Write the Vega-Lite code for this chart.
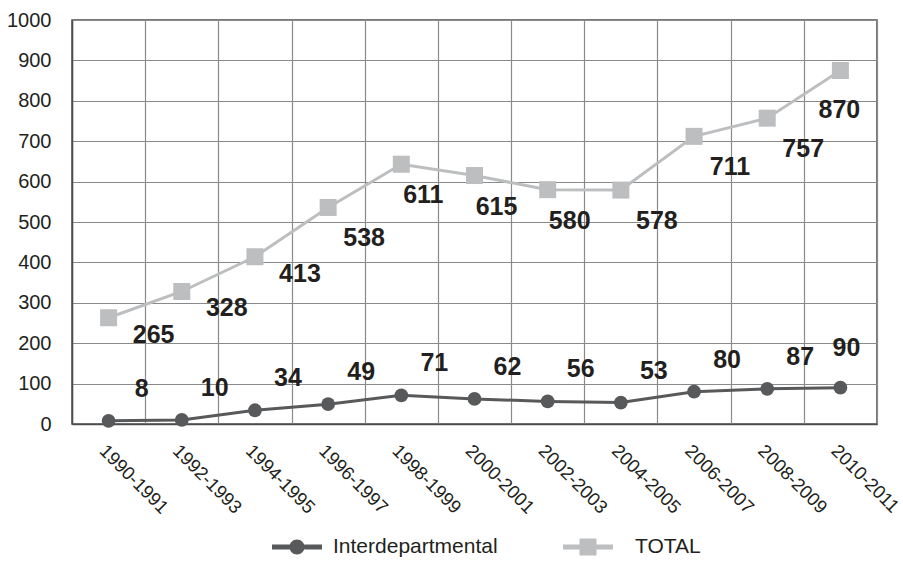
{
  "$schema": "https://vega.github.io/schema/vega-lite/v6.json",
  "autosize": {"type": "none"},
  "padding": {"left": 72, "top": 20, "right": 26, "bottom": 144},
  "width": 805,
  "height": 404,
  "background": "white",
  "config": {
    "font": "Liberation Sans",
    "view": {"stroke": "#4d4d4d", "strokeWidth": 1.5},
    "axis": {
      "labelFont": "Liberation Sans",
      "labelFontSize": 20,
      "labelColor": "#231f20",
      "gridColor": "#8a8a8a",
      "gridWidth": 1.2,
      "gridOpacity": 1,
      "domainColor": "#4d4d4d",
      "domainWidth": 1.5,
      "ticks": false,
      "title": null
    }
  },
  "data": {
    "values": [
      {"period": "1990-1991", "series": "Interdepartmental", "value": 8, "label": "8"},
      {"period": "1992-1993", "series": "Interdepartmental", "value": 10, "label": "10"},
      {"period": "1994-1995", "series": "Interdepartmental", "value": 34, "label": "34"},
      {"period": "1996-1997", "series": "Interdepartmental", "value": 49, "label": "49"},
      {"period": "1998-1999", "series": "Interdepartmental", "value": 71, "label": "71"},
      {"period": "2000-2001", "series": "Interdepartmental", "value": 62, "label": "62"},
      {"period": "2002-2003", "series": "Interdepartmental", "value": 56, "label": "56"},
      {"period": "2004-2005", "series": "Interdepartmental", "value": 53, "label": "53"},
      {"period": "2006-2007", "series": "Interdepartmental", "value": 80, "label": "80"},
      {"period": "2008-2009", "series": "Interdepartmental", "value": 87, "label": "87"},
      {"period": "2010-2011", "series": "Interdepartmental", "value": 90, "label": "90"},
      {"period": "1990-1991", "series": "TOTAL", "value": 263, "label": "265"},
      {"period": "1992-1993", "series": "TOTAL", "value": 328, "label": "328"},
      {"period": "1994-1995", "series": "TOTAL", "value": 414, "label": "413"},
      {"period": "1996-1997", "series": "TOTAL", "value": 536, "label": "538"},
      {"period": "1998-1999", "series": "TOTAL", "value": 643, "label": "611"},
      {"period": "2000-2001", "series": "TOTAL", "value": 615, "label": "615"},
      {"period": "2002-2003", "series": "TOTAL", "value": 580, "label": "580"},
      {"period": "2004-2005", "series": "TOTAL", "value": 579, "label": "578"},
      {"period": "2006-2007", "series": "TOTAL", "value": 712, "label": "711"},
      {"period": "2008-2009", "series": "TOTAL", "value": 757, "label": "757"},
      {"period": "2010-2011", "series": "TOTAL", "value": 875, "label": "870"}
    ]
  },
  "encoding": {
    "x": {
      "field": "period",
      "type": "nominal",
      "sort": null,
      "scale": {"type": "band", "paddingInner": 0, "paddingOuter": 0},
      "axis": {
        "labelAngle": 45,
        "labelAlign": "left",
        "labelBaseline": "top",
        "labelPadding": 17,
        "labelFontSize": 18.5,
        "tickBand": "extent",
        "grid": true,
        "domain": true
      }
    },
    "y": {
      "field": "value",
      "type": "quantitative",
      "scale": {"domain": [0, 1000], "nice": false},
      "axis": {
        "values": [0, 100, 200, 300, 400, 500, 600, 700, 800, 900, 1000],
        "format": "d",
        "labelPadding": 21,
        "grid": true,
        "domain": true
      }
    }
  },
  "layer": [
    {
      "mark": {"type": "line", "strokeWidth": 3},
      "encoding": {
        "color": {
          "field": "series",
          "type": "nominal",
          "scale": {"domain": ["Interdepartmental", "TOTAL"], "range": ["#58595b", "#bcbec0"]},
          "legend": {
            "orient": "none",
            "legendX": 200,
            "legendY": 502,
            "direction": "horizontal",
            "title": null,
            "labelFontSize": 21,
            "labelFont": "Liberation Sans",
            "labelColor": "#231f20",
            "labelLimit": 400,
            "symbolSize": 2500,
            "labelOffset": 11,
            "columnPadding": 65,
            "encode": {
              "labels": {
                "update": {
                  "dx": {"signal": "datum.value === 'TOTAL' ? 11 : 0"}
                }
              },
              "symbols": {
                "update": {
                  "shape": {"signal": "datum.value === 'TOTAL' ? 'M-1,-0.1L-0.34,-0.1L-0.34,-0.34L0.34,-0.34L0.34,-0.1L1,-0.1L1,0.1L0.34,0.1L0.34,0.34L-0.34,0.34L-0.34,0.1L-1,0.1Z' : 'M-1,-0.1L-0.29,-0.1L-0.29,0.1L-1,0.1Z M0.29,-0.1L1,-0.1L1,0.1L0.29,0.1Z M-0.3,0A0.3,0.3 0 1,1 0.3,0A0.3,0.3 0 1,1 -0.3,0Z'"},
                  "fill": {"signal": "scale('color', datum.value)"},
                  "fillOpacity": {"value": 1},
                  "strokeWidth": {"value": 0},
                  "opacity": {"value": 1}
                }
              }
            }
          }
        }
      }
    },
    {
      "transform": [{"filter": "datum.series === 'TOTAL'"}],
      "mark": {"type": "point", "shape": "square", "filled": true, "size": 289, "color": "#bcbec0", "opacity": 1}
    },
    {
      "transform": [{"filter": "datum.series === 'Interdepartmental'"}],
      "mark": {"type": "point", "shape": "circle", "filled": true, "size": 190, "color": "#58595b", "opacity": 1}
    },
    {
      "transform": [{"filter": "datum.series === 'TOTAL' && indexof(['1990-1991','1992-1993','1994-1995'], datum.period) >= 0"}],
      "mark": {"type": "text", "fontSize": 25, "fontWeight": "bold", "color": "#231f20", "dx": 45, "dy": 17, "baseline": "middle", "align": "center"},
      "encoding": {"text": {"field": "label"}}
    },
    {
      "transform": [{"filter": "datum.series === 'TOTAL' && indexof(['1996-1997','2004-2005','2006-2007','2008-2009'], datum.period) >= 0"}],
      "mark": {"type": "text", "fontSize": 25, "fontWeight": "bold", "color": "#231f20", "dx": 36, "dy": 31, "baseline": "middle", "align": "center"},
      "encoding": {"text": {"field": "label"}}
    },
    {
      "transform": [{"filter": "datum.series === 'TOTAL' && indexof(['1998-1999','2000-2001','2002-2003'], datum.period) >= 0"}],
      "mark": {"type": "text", "fontSize": 25, "fontWeight": "bold", "color": "#231f20", "dx": 22, "dy": 31, "baseline": "middle", "align": "center"},
      "encoding": {"text": {"field": "label"}}
    },
    {
      "transform": [{"filter": "datum.series === 'TOTAL' && datum.period === '2010-2011'"}],
      "mark": {"type": "text", "fontSize": 25, "fontWeight": "bold", "color": "#231f20", "dx": -1, "dy": 39, "baseline": "middle", "align": "center"},
      "encoding": {"text": {"field": "label"}}
    },
    {
      "transform": [{"filter": "datum.series === 'Interdepartmental' && datum.period !== '2010-2011'"}],
      "mark": {"type": "text", "fontSize": 25, "fontWeight": "bold", "color": "#231f20", "dx": 33, "dy": -32, "baseline": "middle", "align": "center"},
      "encoding": {"text": {"field": "label"}}
    },
    {
      "transform": [{"filter": "datum.series === 'Interdepartmental' && datum.period === '2010-2011'"}],
      "mark": {"type": "text", "fontSize": 25, "fontWeight": "bold", "color": "#231f20", "dx": 6, "dy": -40, "baseline": "middle", "align": "center"},
      "encoding": {"text": {"field": "label"}}
    }
  ]
}
